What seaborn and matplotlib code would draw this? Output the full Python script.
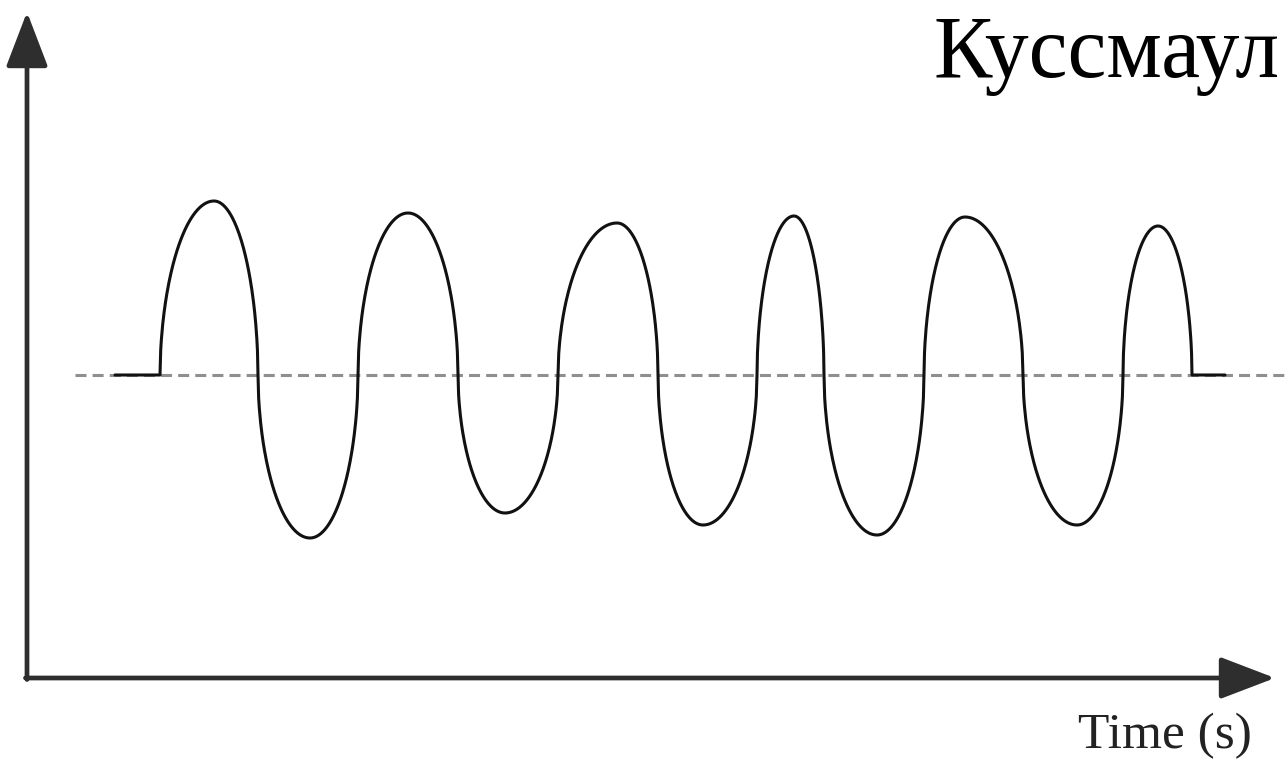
import numpy as np
import pandas as pd
import seaborn as sns
import matplotlib
matplotlib.use("Agg")
import matplotlib.pyplot as plt

# values (time in s, volume in arbitrary units, baseline = 0)
flat_start = 0.88
flat_end = 11.98
crossings = [1.33, 2.31, 3.31, 4.31, 5.31, 6.31, 7.30, 7.97, 8.97, 9.96, 10.96, 11.65]
peak_times = [1.87, 2.83, 3.81, 4.78, 5.90, 6.76, 7.67, 8.50, 9.38, 10.50, 11.31]
amplitudes = [1.74, -1.63, 1.62, -1.38, 1.52, -1.50, 1.59, -1.60, 1.58, -1.50, 1.49]

axis_bottom = -3.03
axis_top = 3.63
axis_right = 12.48
baseline_start = 0.48

title = "Куссмаул"
xlabel = "Time (s)"

# build the trace: flat, rounded (elliptic) lobes between the crossings, flat
ts = [flat_start]
vs = [0.0]
for i, (amp, tp) in enumerate(zip(amplitudes, peak_times)):
    x0, x1 = crossings[i], crossings[i + 1]
    u = np.linspace(1, 0, 80)
    ts += list(tp - u * (tp - x0))
    vs += list(amp * (1 - u ** 2) ** 0.53)
    u = np.linspace(0, 1, 80)[1:]
    ts += list(tp + u * (x1 - tp))
    vs += list(amp * (1 - u ** 2) ** 0.53)
ts.append(flat_end)
vs.append(0.0)
df = pd.DataFrame({"time": ts, "volume": vs})

sns.set_style("white")
fig = plt.figure(figsize=(12.88, 7.62), dpi=100)
ax = fig.add_axes([0, 0, 1, 1])

ax.hlines(0, baseline_start, 13, colors="#8f8f8f", lw=2.2,
          linestyles=(0, (3.6, 2.0)), zorder=1)
sns.lineplot(data=df, x="time", y="volume", sort=False, color="#111111",
             lw=2.2, ax=ax, zorder=2)

# axis arrows
arrow_kw = dict(arrowstyle="-|>,head_length=1.7,head_width=0.65",
                mutation_scale=20, lw=3.4, color="#2e2e2e",
                shrinkA=0, shrinkB=0)
ax.annotate("", xy=(0, axis_top), xytext=(0, axis_bottom - 0.015),
            arrowprops=arrow_kw)
ax.annotate("", xy=(axis_right, axis_bottom), xytext=(-0.015, axis_bottom),
            arrowprops=arrow_kw)

ax.set_xlim(-0.27, 12.61)
ax.set_ylim(-3.87, 3.75)
ax.axis("off")

fig.text(933 / 1288, 1 - 77 / 762, title, family="Liberation Serif",
         fontsize=63, va="baseline", ha="left", color="black")
fig.text(1078 / 1288, 1 - 748 / 762, xlabel, family="Liberation Serif",
         fontsize=37, va="baseline", ha="left", color="#222222")

fig.savefig("out.png", dpi=100)
